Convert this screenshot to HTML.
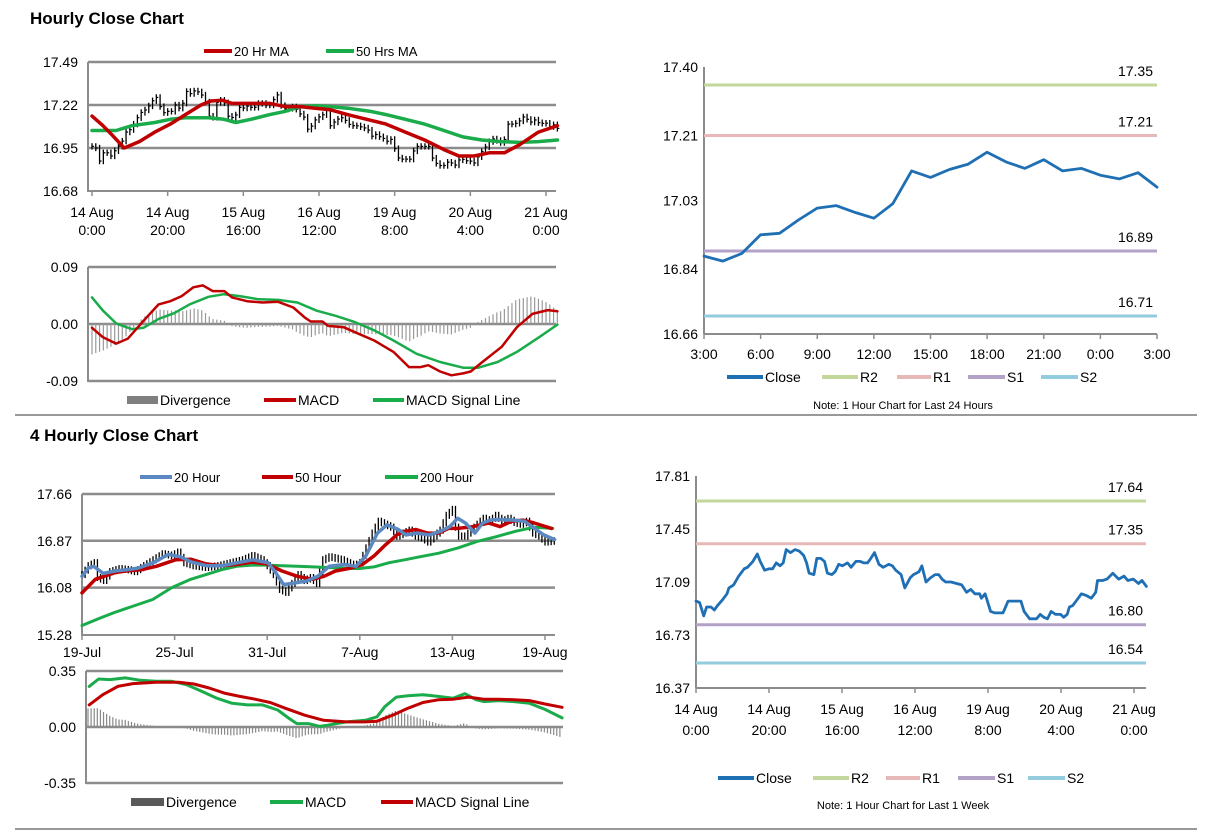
<!DOCTYPE html>
<html><head><meta charset="utf-8"><style>
body{margin:0;background:#fff;width:1212px;height:834px;overflow:hidden;font-family:"Liberation Sans",Arial,sans-serif}
svg text{font-family:"Liberation Sans",Arial,sans-serif;fill:#000}
</style></head><body>
<svg id="s" width="1212" height="834" viewBox="0 0 1212 834" xmlns="http://www.w3.org/2000/svg">
<text x="30" y="24" font-size="17" font-weight="bold">Hourly Close Chart</text>
<text x="30" y="441" font-size="17" font-weight="bold">4 Hourly Close Chart</text>
<line x1="15" y1="415" x2="1197" y2="415" stroke="#999" stroke-width="2"/>
<line x1="15" y1="829" x2="1197" y2="829" stroke="#999" stroke-width="2"/>
</svg>
<script>
// ---------- DATA ----------
// 1-hour closes 14 Aug 0:00 .. 21 Aug (hour index, value)
const hourlyClose=[[0,16.96],[1,16.95],[2.1,16.86],[2.9,16.92],[4.1,16.92],[5,16.90],[5.9,16.93],[7.3,16.97],[8.5,17.01],[9,17.05],[10.3,17.07],[11.7,17.13],[13.2,17.18],[14.1,17.19],[15.6,17.23],[16.8,17.28],[17.6,17.23],[18.8,17.17],[20,17.18],[21,17.18],[22,17.22],[23,17.20],[23.9,17.22],[24.7,17.31],[25.9,17.29],[27.1,17.31],[28.3,17.30],[29.5,17.27],[30.3,17.22],[31,17.15],[32.3,17.14],[33.1,17.25],[34.2,17.25],[35.2,17.23],[36,17.15],[37.2,17.14],[38.1,17.16],[39.1,17.21],[40.1,17.20],[41.5,17.22],[42.5,17.19],[43.8,17.23],[45,17.23],[46,17.22],[47,17.22],[47.9,17.25],[48.9,17.29],[50.1,17.21],[51.3,17.19],[52.8,17.21],[53.8,17.20],[54.7,17.17],[56.2,17.14],[57.2,17.05],[58.7,17.12],[59.6,17.14],[61.1,17.16],[61.9,17.20],[63,17.09],[64.3,17.12],[65.5,17.14],[66.5,17.14],[67.4,17.11],[68.4,17.09],[69.9,17.09],[71.4,17.08],[72.8,17.07],[74.1,17.02],[75.3,17.04],[76.4,17.01],[77.7,17.01],[78.2,16.98],[79.2,17.01],[80.7,16.89],[81.9,16.88],[84.1,16.88],[85.5,16.96],[87,16.96],[89,16.96],[89.9,16.89],[91.4,16.84],[93.3,16.84],[94.3,16.87],[95.3,16.85],[96.3,16.84],[97.3,16.89],[98.5,16.87],[99.9,16.87],[100.7,16.85],[101.7,16.87],[102.3,16.92],[103.2,16.93],[104.4,16.97],[105.6,17.01],[106.8,17.00],[108.3,16.98],[109.5,17.02],[110,17.10],[111.4,17.10],[112.6,17.11],[114.2,17.15],[115.8,17.11],[117.3,17.13],[118.3,17.10],[119.8,17.11],[121.2,17.08],[122.2,17.10],[123.4,17.06]];
const ma20hr=[[0,17.15],[2.9,17.09],[5.4,17.03],[8.5,16.95],[12.5,16.99],[16.6,17.05],[20.7,17.10],[24.7,17.16],[28.8,17.22],[31.4,17.245],[34.4,17.25],[37,17.23],[42,17.23],[47,17.23],[51,17.21],[55,17.21],[59,17.20],[63,17.19],[67.5,17.16],[72.6,17.13],[77.7,17.10],[82.8,17.05],[87.9,17.00],[93,16.94],[97,16.90],[101,16.90],[105,16.92],[109,16.92],[113,16.97],[118,17.05],[123,17.09]];
const ma50hr=[[0,17.06],[6.4,17.06],[10.5,17.09],[16.6,17.11],[20.7,17.13],[24.7,17.14],[30.8,17.14],[34.9,17.13],[38,17.11],[42,17.13],[47,17.16],[51,17.18],[55,17.21],[59,17.215],[63,17.21],[67.5,17.20],[73.6,17.18],[77.7,17.16],[82.8,17.13],[87.9,17.10],[93,17.06],[98,17.02],[103,17.00],[108,16.99],[113,16.985],[118,16.99],[123,17.00]];
const hourlyTicks=["14 Aug|0:00","14 Aug|20:00","15 Aug|16:00","16 Aug|12:00","19 Aug|8:00","20 Aug|4:00","21 Aug|0:00"];
const hourlyYTicks=[17.49,17.22,16.95,16.68];
const macd1=[[0,-0.006],[2.9,-0.021],[6.4,-0.031],[9.5,-0.023],[13.6,0.005],[17.6,0.031],[20.7,0.036],[23.7,0.044],[26.8,0.058],[29.3,0.061],[31.9,0.052],[35,0.052],[37,0.042],[41,0.036],[45.1,0.034],[49.2,0.035],[53.2,0.026],[56.3,0.010],[57.8,0.004],[60.9,0.004],[62.4,-0.003],[66.5,-0.005],[69.5,-0.013],[74.6,-0.026],[79.7,-0.044],[83.8,-0.068],[86.8,-0.068],[88.9,-0.065],[92,-0.075],[95,-0.081],[98.1,-0.078],[100.1,-0.075],[103.2,-0.060],[108.3,-0.036],[112.3,-0.005],[116.4,0.016],[120.5,0.022],[123,0.020]];
const signal1=[[0,0.042],[2.9,0.021],[6.4,0.001],[10.5,-0.008],[13.6,-0.006],[17.6,0.008],[21.7,0.017],[25.8,0.031],[30.8,0.043],[34.9,0.047],[39,0.044],[44.1,0.039],[49.2,0.038],[54.3,0.034],[59.4,0.021],[64.4,0.013],[69.5,0.003],[74.6,-0.010],[79.7,-0.026],[85.8,-0.047],[92,-0.060],[98.1,-0.069],[102.1,-0.069],[107.2,-0.060],[112.3,-0.044],[118.4,-0.020],[123,-0.001]];
const macd1YTicks=[0.09,0.00,-0.09];
// last 24 hours
const last24Close=[16.876,16.862,16.883,16.935,16.939,16.976,17.009,17.016,16.997,16.981,17.021,17.112,17.094,17.116,17.131,17.164,17.137,17.119,17.143,17.112,17.119,17.100,17.090,17.107,17.067];
const last24Ticks=["3:00","6:00","9:00","12:00","15:00","18:00","21:00","0:00","3:00"];
const last24YTicks=[17.40,17.21,17.03,16.84,16.66];
const last24Levels=[17.35,17.21,16.89,16.71];
// 4-hourly
const close4h=[[0,16.30],[2,16.45],[4,16.50],[5,16.25],[7,16.20],[9,16.35],[12,16.40],[15,16.38],[17,16.35],[20,16.45],[23,16.55],[26,16.65],[29,16.62],[31,16.68],[33,16.50],[36,16.45],[40,16.42],[44,16.45],[48,16.50],[52,16.55],[55,16.62],[58,16.55],[60,16.45],[62,16.30],[64,16.05],[66,16.00],[68,16.15],[70,16.30],[72,16.20],[74,16.25],[76,16.15],[78,16.55],[80,16.60],[84,16.55],[88,16.45],[90,16.50],[92,16.75],[94,17.00],[96,17.20],[98,17.15],[100,17.10],[102,16.95],[104,17.00],[106,17.05],[108,16.95],[110,16.92],[112,16.85],[114,16.95],[116,17.05],[118,17.30],[120,17.40],[121,17.10],[122,16.95],[124,16.95],[126,17.05],[128,17.15],[130,17.25],[132,17.20],[134,17.30],[136,17.20],[138,17.25],[140,17.18],[142,17.15],[144,17.20],[146,17.00],[148,16.95],[150,16.85],[153,16.87]];
const ma20h4=[[0,16.27],[2,16.41],[3.8,16.44],[6.9,16.32],[10.7,16.36],[14.4,16.38],[18.1,16.41],[23.1,16.50],[28,16.64],[31.8,16.60],[35.5,16.51],[40.4,16.45],[45.4,16.45],[50.4,16.50],[55.3,16.55],[60.3,16.50],[62.8,16.33],[65.3,16.13],[69,16.16],[72.7,16.19],[76.4,16.27],[80.1,16.44],[85.1,16.47],[88.8,16.44],[91.9,16.61],[95.7,17.00],[98.8,17.14],[102.5,17.06],[105,16.97],[108.7,17.00],[112.4,16.97],[116.1,17.03],[119.2,17.11],[121.7,17.25],[124.2,17.17],[127.3,17.00],[129.8,17.17],[132.3,17.22],[134.7,17.23],[139.7,17.22],[143.4,17.20],[147.1,17.06],[149.6,16.97],[153.1,16.89]];
const ma50h4=[[0,15.99],[4.3,16.22],[10.5,16.33],[14.2,16.36],[19.1,16.38],[24.1,16.44],[30.3,16.55],[35.2,16.56],[40.2,16.48],[45.1,16.45],[50,16.47],[55,16.51],[59.9,16.48],[64.8,16.36],[69.8,16.27],[74.7,16.22],[78.4,16.27],[82.1,16.36],[87.1,16.41],[90.8,16.47],[94.5,16.61],[98.3,16.80],[102,16.97],[104.5,17.03],[108.2,17.06],[111.9,17.00],[115.6,17.00],[118.7,17.08],[121.8,17.08],[126.7,17.11],[131.7,17.17],[135.4,17.11],[139.1,17.20],[142.8,17.22],[146.5,17.17],[152.1,17.08]];
const ma200h4=[[0,15.44],[5.6,15.56],[10.5,15.66],[16.7,15.77],[22.9,15.88],[29.1,16.08],[35.2,16.22],[40.2,16.30],[45.1,16.38],[50.1,16.44],[55,16.46],[60,16.46],[64.9,16.45],[69.8,16.44],[74.8,16.43],[79.7,16.42],[84.7,16.41],[89.6,16.40],[94.6,16.43],[99.5,16.50],[104.5,16.55],[109.4,16.60],[115.6,16.66],[121.8,16.75],[128,16.86],[134.2,16.94],[140.4,17.03],[146.5,17.10],[152.5,17.08]];
const h4Ticks=["19-Jul","25-Jul","31-Jul","7-Aug","13-Aug","19-Aug"];
const h4YTicks=[17.66,16.87,16.08,15.28];
const macd2=[[0.4,0.254],[3.4,0.300],[7.1,0.296],[12,0.307],[16.9,0.292],[21.9,0.286],[26.8,0.286],[31.7,0.265],[36.6,0.223],[41.5,0.180],[46.4,0.148],[51.3,0.138],[56.2,0.138],[61.1,0.106],[64.8,0.053],[67.3,0.021],[71,0.021],[74.7,0.004],[77.1,0.011],[83.3,0.032],[89.4,0.042],[93.1,0.064],[95.6,0.127],[99.3,0.187],[103,0.195],[107.9,0.201],[112.8,0.191],[117.7,0.180],[121.4,0.208],[125.1,0.170],[127.5,0.159],[132.4,0.165],[137.3,0.159],[142.2,0.148],[147.2,0.110],[152.7,0.057]];
const signal2=[[0.4,0.138],[4.7,0.201],[9.6,0.254],[14.5,0.271],[21.9,0.280],[29.2,0.280],[34.1,0.269],[39,0.244],[43.9,0.212],[48.9,0.191],[53.8,0.174],[58.7,0.153],[63.6,0.117],[69.8,0.074],[75.9,0.042],[83.3,0.032],[89.4,0.032],[93.1,0.036],[98.1,0.074],[103,0.117],[107.9,0.153],[112.8,0.170],[117.7,0.174],[122.6,0.187],[127.5,0.174],[132.4,0.174],[137.3,0.170],[142.2,0.165],[147.2,0.144],[152.7,0.123]];
const macd2YTicks=[0.35,0.00,-0.35];
// last 1 week
const weekYTicks=[17.81,17.45,17.09,16.73,16.37];
const weekLevels=[17.64,17.35,16.80,16.54];
const levelNames=["R2","R1","S1","S2"];

// ---------- HELPERS ----------
const S=document.getElementById('s');const NS='http://www.w3.org/2000/svg';
function mk(tag,attrs,parent){const e=document.createElementNS(NS,tag);for(const k in attrs)e.setAttribute(k,attrs[k]);(parent||S).appendChild(e);return e;}
function interp(arr,t){if(t<=arr[0][0])return arr[0][1];for(let i=1;i<arr.length;i++){if(t<=arr[i][0]){const a=arr[i-1],b=arr[i];return a[1]+(b[1]-a[1])*(t-a[0])/(b[0]-a[0]);}}return arr[arr.length-1][1];}
function lin(d0,d1,r0,r1){return v=>r0+(v-d0)*(r1-r0)/(d1-d0);}
function pathOf(pts,xf,yf){return pts.map((p,i)=>(i?'L':'M')+xf(p[0]).toFixed(1)+','+yf(p[1]).toFixed(1)).join('');}
function line(pts,xf,yf,color,w,name){const e=mk('path',{d:pathOf(pts,xf,yf),fill:'none',stroke:color,'stroke-width':w,'stroke-linejoin':'round','stroke-linecap':'round'});

return e;}
function txt(x,y,s,size,anchor,name){const e=mk('text',{x:x,y:y,'font-size':size,'text-anchor':anchor||'start'});e.textContent=s;

return e;}
function hl(x1,x2,y,color,w,name){const e=mk('line',{x1:x1,x2:x2,y1:y,y2:y,stroke:color,'stroke-width':w});

return e;}
function vl(x,y1,y2,color,w,name){const e=mk('line',{x1:x,x2:x,y1:y1,y2:y2,stroke:color,'stroke-width':w});

return e;}
function legend(items,y){items.forEach(it=>{const g=mk('g',{});


if(it.block){mk('rect',{x:it.x,y:y-4,width:it.w,height:8,fill:it.color},g);}else{mk('line',{x1:it.x,x2:it.x+it.w,y1:y,y2:y,stroke:it.color,'stroke-width':4},g);}
const t=mk('text',{x:it.x+it.w+2,y:y+5,'font-size':it.fs||14},g);t.textContent=it.label;});}
const GRID='#8c8c8c';

// ---------- CHART 1: hourly price ----------
(function(){const x=lin(0,120,92,546),y=lin(17.49,16.68,62,191);
hourlyYTicks.forEach((v,i)=>{if(i<hourlyYTicks.length-1)hl(88,556,y(v),GRID,2.5,'hourly-gridline');txt(78,y(v)+5,v.toFixed(2),14,'end','hourly-y-tick');});
vl(88,62,192,GRID,2,'hourly-y-axis');hl(88,556,191,GRID,2,'hourly-x-axis');
hourlyTicks.forEach((s,i)=>{const xx=x(i*20);vl(xx,191,196,GRID,1.5,'hourly-x-tickmark');const p=s.split('|');txt(xx,217,p[0],14,'middle','hourly-x-tick');txt(xx,235,p[1],14,'middle','hourly-x-tick');});
for(let h=0;h<=123;h++){const c=interp(hourlyClose,h),pv=interp(hourlyClose,Math.max(0,h-1));const hi=Math.max(c,pv)+0.02,lo=Math.min(c,pv)-0.02;vl(x(h),y(hi),y(lo),'#000',1.3,'hourly-price-bar');hl(x(h),x(h)+2,y(c),'#000',1.2,'hourly-close-tick');}
line(ma50hr,x,y,'#1aab4b',3.5,'ma-50-line');line(ma20hr,x,y,'#c00000',3.5,'ma-20-line');
legend([{x:204,w:28,color:'#c00000',label:'20 Hr MA',fs:13},{x:326,w:28,color:'#1aab4b',label:'50 Hrs MA',fs:13}],51);})();

// ---------- CHART 2: hourly MACD ----------
(function(){const x=lin(0,120,92,546),y=lin(0.09,-0.09,267,381);
macd1YTicks.forEach(v=>{hl(88,556,y(v),GRID,2.5,'macd1-gridline');txt(78,y(v)+5,v.toFixed(2),14,'end','macd1-y-tick');});
vl(88,267,382,GRID,2,'macd1-y-axis');
for(let h=0;h<=123;h++){const d=interp(macd1,h)-interp(signal1,h);vl(x(h),y(0),y(d),'#999',1.2,'macd1-divergence-bar');}
line(signal1,x,y,'#1aab4b',2.5,'macd1-signal-line');line(macd1,x,y,'#c00000',2.5,'macd1-line');
legend([{x:127,w:31,color:'#7f7f7f',label:'Divergence',block:true},{x:264,w:32,color:'#c00000',label:'MACD'},{x:373,w:31,color:'#1aab4b',label:'MACD Signal Line'}],400);})();

// ---------- CHART 3: last 24h ----------
function levelChart(cfg){const x=cfg.x,y=cfg.y;
cfg.yt.forEach(v=>txt(cfg.ax-6,y(v)+5,v.toFixed(2),14,'end',cfg.n+'-y-tick'));
vl(cfg.ax,cfg.top,cfg.bot,GRID,2,cfg.n+'-y-axis');hl(cfg.ax,cfg.right,cfg.bot,GRID,2,cfg.n+'-x-axis');
const cols=['#c3d69b','#e6b9b8','#b3a2c7','#93cddd'];
cfg.levels.forEach((v,i)=>{hl(cfg.ax,cfg.right,y(v),cols[i],3,cfg.n+'-level-'+levelNames[i].toLowerCase());txt(cfg.lx,y(v)-9,v.toFixed(2),14,'end',cfg.n+'-level-label');});
line(cfg.pts,x,y,'#1f6fb5',2.8,cfg.n+'-close-line');
legend([{x:cfg.lg[0],w:36,color:'#1f6fb5',label:'Close'},{x:cfg.lg[1],w:36,color:cols[0],label:'R2'},{x:cfg.lg[2],w:34,color:cols[1],label:'R1'},{x:cfg.lg[3],w:37,color:cols[2],label:'S1'},{x:cfg.lg[4],w:37,color:cols[3],label:'S2'}],cfg.ly);
txt(903,cfg.ny,cfg.note,11,'middle',cfg.n+'-note');}
(function(){const x=lin(0,24,704,1157),y=lin(17.40,16.66,67,334);
levelChart({n:'last24',x:x,y:y,ax:704,right:1157,top:67,bot:334,yt:last24YTicks,levels:last24Levels,lx:1153,pts:last24Close.map((v,i)=>[i,v]),lg:[727,822,897,968,1041],ly:377,ny:409,note:'Note: 1 Hour Chart for Last 24 Hours'});
last24Ticks.forEach((s,i)=>{vl(x(i*3),334,339,GRID,1.5,'last24-x-tickmark');txt(x(i*3),359,s,14,'middle','last24-x-tick');});})();

// ---------- CHART 4: 4-hourly price ----------
(function(){const x=lin(0,150,82,545),y=lin(17.66,15.28,494,635);
h4YTicks.forEach((v,i)=>{if(i<h4YTicks.length-1)hl(82,555,y(v),GRID,2.5,'h4-gridline');txt(72,y(v)+5,v.toFixed(2),14,'end','h4-y-tick');});
vl(82,494,636,GRID,2,'h4-y-axis');hl(82,555,635,GRID,2,'h4-x-axis');
h4Ticks.forEach((s,i)=>{const xx=x(i*30);vl(xx,635,640,GRID,1.5,'h4-x-tickmark');txt(xx,657,s,14,'middle','h4-x-tick');});
for(let i=0;i<=153;i++){const c=interp(close4h,i),pv=interp(close4h,Math.max(0,i-1));const hi=Math.max(c,pv)+0.06,lo=Math.min(c,pv)-0.06;vl(x(i),y(hi),y(lo),'#000',1.3,'h4-price-bar');}
line(ma200h4,x,y,'#1aab4b',3,'ma-200-line');line(ma50h4,x,y,'#c00000',3.5,'ma-50h-line');line(ma20h4,x,y,'#5b88c0',3.5,'ma-20h-line');
legend([{x:140,w:32,color:'#5b88c0',label:'20 Hour',fs:13},{x:262,w:31,color:'#c00000',label:'50 Hour',fs:13},{x:385,w:33,color:'#1aab4b',label:'200 Hour',fs:13}],477);})();

// ---------- CHART 5: 4-hourly MACD ----------
(function(){const x=lin(0,153,88,563),y=lin(0.35,-0.35,671,783);
macd2YTicks.forEach(v=>{hl(86,563,y(v),GRID,2.5,'macd2-gridline');txt(76,y(v)+5,v.toFixed(2),14,'end','macd2-y-tick');});
vl(86,671,784,GRID,2,'macd2-y-axis');
for(let i=0;i<=152;i++){const d=interp(macd2,i)-interp(signal2,i);vl(x(i),y(0),y(d),'#888',1.2,'macd2-divergence-bar');}
line(macd2,x,y,'#1aab4b',3,'macd2-line');line(signal2,x,y,'#c00000',3,'macd2-signal-line');
legend([{x:131,w:33,color:'#595959',label:'Divergence',block:true},{x:270,w:33,color:'#1aab4b',label:'MACD'},{x:381,w:32,color:'#c00000',label:'MACD Signal Line'}],802);})();

// ---------- CHART 6: last week ----------
(function(){const x=lin(0,120,696,1134),y=lin(17.81,16.37,476,688);
levelChart({n:'week',x:x,y:y,ax:696,right:1146,top:476,bot:688,yt:weekYTicks,levels:weekLevels,lx:1143,pts:hourlyClose,lg:[718,813,886,958,1028],ly:778,ny:809,note:'Note: 1 Hour Chart for Last 1 Week'});
hourlyTicks.forEach((s,i)=>{const xx=x(i*20);vl(xx,688,693,GRID,1.5,'week-x-tickmark');const p=s.split('|');txt(xx,714,p[0],14,'middle','week-x-tick');txt(xx,735,p[1],14,'middle','week-x-tick');});})();
</script>
</body></html>
